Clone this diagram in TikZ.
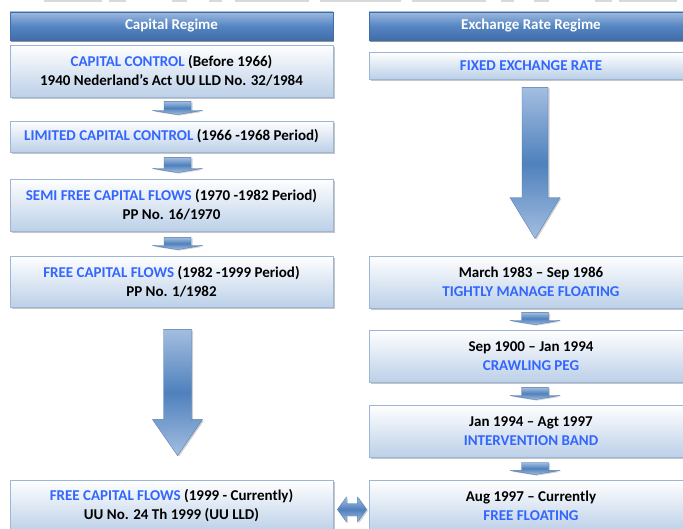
\documentclass[tikz,border=0pt]{standalone}
\usepackage{fontspec}
\setmainfont{Carlito}
\usetikzlibrary{calc,shadows}
\definecolor{hdrTop}{HTML}{9DB9DE}
\definecolor{hdrMid}{HTML}{5585C2}
\definecolor{hdrBot}{HTML}{3F6DAA}
\definecolor{boxLine}{HTML}{9DB6D6}
\definecolor{boxBot}{HTML}{BCD0E8}
\definecolor{txtBlue}{HTML}{3366FF}
\definecolor{arrLight}{HTML}{A3BEE0}
\definecolor{arrDark}{HTML}{4F81BD}
\definecolor{stripGrey}{HTML}{D9D9D9}
\tikzset{
  hdr/.style={draw=hdrBot, line width=0.6pt, top color=hdrTop, bottom color=hdrBot, middle color=hdrMid,
    text=white, font=\bfseries\fontsize{15}{19}\selectfont, minimum height=28pt, inner sep=0pt,
    drop shadow={shadow xshift=1pt, shadow yshift=-2pt, fill=black!70, opacity=.6}},
  ebox/.style={draw=boxLine, line width=0.8pt, top color=white, bottom color=boxBot,
    font=\bfseries\fontsize{15}{19}\selectfont, align=center, inner sep=0pt,
    drop shadow={shadow xshift=2pt, shadow yshift=-2pt, fill=black!45, opacity=.5}},
  lbox/.style={minimum width=323pt},
  rbox/.style={minimum width=324pt},
  blk/.style={draw=arrDark!90!black, line width=0.3pt, top color=arrLight, bottom color=arrLight, middle color=arrDark,
    drop shadow={shadow xshift=1.5pt, shadow yshift=-1pt, fill=black!40, opacity=.45}},
}
% #1 top point, #2 tip point, #3 shaft half width, #4 head half width, #5 head length
\newcommand\flowArrow[5]{%
  \path[blk] let \p1=#1, \p2=#2 in
    (\x1-#3pt,\y1) -- (\x1+#3pt,\y1) -- (\x1+#3pt,\y2+#5pt) -- (\x1+#4pt,\y2+#5pt)
    -- (\x1,\y2) -- (\x1-#4pt,\y2+#5pt) -- (\x1-#3pt,\y2+#5pt) -- cycle;}
\newcommand\txb[1]{\textcolor{txtBlue}{#1}}
\begin{document}
\begin{tikzpicture}[x=1pt,y=1pt]
\useasboundingbox (0,0) rectangle (683,528);
\clip (0,0) rectangle (683,528);
% faint strips at the top edge
\foreach \a/\b in {44/102,109/126,172/187,209/222,235/309,320/401,412/486,501/514,534/549,595/612,619/677}
  \fill[stripGrey] (\a,525.5) rectangle (\b,529);
% headers
\node[hdr,lbox] (HL) at (171.5,502) {Capital Regime};
\node[hdr,rbox] (HR) at (531,502) {Exchange Rate Regime};
% left column
\node[ebox,lbox,minimum height=52pt] (B1) at (171.5,457) {\txb{CAPITAL CONTROL} (Before 1966)\\1940 Nederland’s Act UU LLD No. 32/1984};
\node[ebox,lbox,minimum height=31pt] (B2) at (171.5,391.5) {\txb{LIMITED CAPITAL CONTROL} (1966 -1968 Period)};
\node[ebox,lbox,minimum height=52pt] (B3) at (171.5,323) {\txb{SEMI FREE CAPITAL FLOWS} (1970 -1982 Period)\\PP No. 16/1970};
\node[ebox,lbox,minimum height=51pt] (B4) at (171.5,246.5) {\txb{FREE CAPITAL FLOWS} (1982 -1999 Period)\\PP No. 1/1982};
\node[ebox,lbox,minimum height=52pt] (B5) at (171.5,22) {\txb{FREE CAPITAL FLOWS} (1999 - Currently)\\UU No. 24 Th 1999 (UU LLD)};
% right column
\node[ebox,rbox,minimum height=27pt] (F) at (531,462.5) {\txb{FIXED EXCHANGE RATE}};
\node[ebox,rbox,minimum height=52pt] (R1) at (531,246) {March 1983 – Sep 1986\\\txb{TIGHTLY MANAGE FLOATING}};
\node[ebox,rbox,minimum height=52pt] (R2) at (531,172) {Sep 1900 – Jan 1994\\\txb{CRAWLING PEG}};
\node[ebox,rbox,minimum height=52pt] (R3) at (531,97) {Jan 1994 – Agt 1997\\\txb{INTERVENTION BAND}};
\node[ebox,rbox,minimum height=52pt] (R4) at (531,22) {Aug 1997 – Currently\\\txb{FREE FLOATING}};
% small arrows, left
\flowArrow{($(B1.south)+(6,-4)$)}{($(B2.north)+(6,6)$)}{13.5}{25}{4}
\flowArrow{($(B2.south)+(6,-5)$)}{($(B3.north)+(6,6)$)}{13.5}{25}{4}
\flowArrow{($(B3.south)+(6,-6)$)}{($(B4.north)+(6,6)$)}{13.5}{25}{4}
% small arrows, right
\flowArrow{($(R1.south)+(4,-4)$)}{($(R2.north)+(4,5)$)}{13.5}{25}{4}
\flowArrow{($(R2.south)+(4,-5)$)}{($(R3.north)+(4,5)$)}{13.5}{25}{4}
\flowArrow{($(R3.south)+(4,-5)$)}{($(R4.north)+(4,5)$)}{13.5}{25}{4}
% big arrows
\flowArrow{($(B4.south)+(6,-22)$)}{($(B5.north)+(6,24)$)}{14}{25}{36}
\flowArrow{($(F.south)+(4,-8)$)}{($(R1.north)+(4,17)$)}{13}{25}{41}
% double arrow
\path[blk] let \p1=($(B5.east)+(4,-3.5)$), \p2=($(R4.west)+(-2,-3.5)$) in
  (\x1,\y1) -- (\x1+9pt,\y1+12.5pt) -- (\x1+9pt,\y1+6pt) -- (\x2-9pt,\y1+6pt) -- (\x2-9pt,\y1+12.5pt)
  -- (\x2,\y1) -- (\x2-9pt,\y1-12.5pt) -- (\x2-9pt,\y1-6pt) -- (\x1+9pt,\y1-6pt) -- (\x1+9pt,\y1-12.5pt) -- cycle;
\end{tikzpicture}
\end{document}
